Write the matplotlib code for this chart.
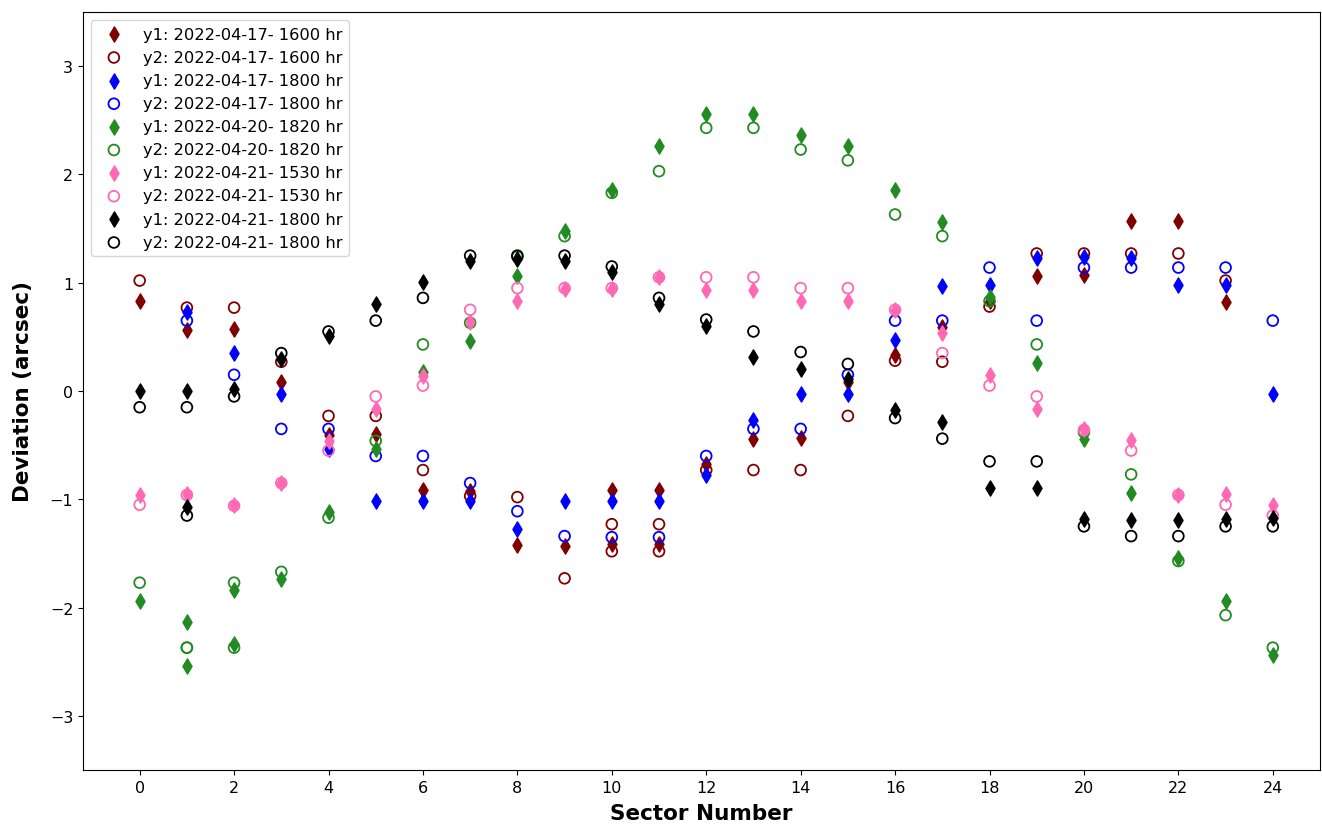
import numpy as np
import matplotlib
matplotlib.use("Agg")
import matplotlib.pyplot as plt

nan = np.nan
sectors = list(range(25))

# y1 / y2 deviations for each run (arcsec), one value per sector
y1_0417_1600 = [0.83, 0.56, 0.57, 0.08, -0.41, -0.40, -0.91, -0.92, -1.42, -1.43, -0.91, -0.91, -0.67,
                -0.44, -0.43, 0.08, 0.33, 0.59, 0.83, 1.06, 1.07, 1.57, 1.57, 0.82, nan]
y2_0417_1600 = [1.02, 0.77, 0.77, 0.27, -0.23, -0.23, -0.73, -0.97, -0.98, -1.73, -1.23, -1.23, -0.73,
                -0.73, -0.73, -0.23, 0.28, 0.27, 0.78, 1.27, 1.27, 1.27, 1.27, 1.02, nan]
y1_0417_1800 = [nan, 0.73, 0.35, -0.03, -0.54, -1.02, -1.02, -1.02, -1.27, -1.02, -1.02, -1.02, -0.78,
                -0.27, -0.03, -0.03, 0.47, 0.97, 0.98, 1.23, 1.24, 1.23, 0.98, 0.98, -0.03]
y2_0417_1800 = [nan, 0.65, 0.15, -0.35, -0.35, -0.60, -0.60, -0.85, -1.11, -1.34, -1.35, -1.35, -0.60,
                -0.35, -0.35, 0.15, 0.65, 0.65, 1.14, 0.65, 1.14, 1.14, 1.14, 1.14, 0.65]
y1_0420_1820 = [-1.94, -2.13, -1.84, -1.74, -1.12, -0.54, 0.18, 0.46, 1.06, 1.48, 1.86, 2.26, 2.56,
                2.56, 2.36, 2.26, 1.86, 1.56, 0.87, 0.26, -0.44, -0.94, -1.54, -1.94, -2.44]
y2_0420_1820 = [-1.77, -2.37, -1.77, -1.67, -1.17, -0.46, 0.43, 0.63, 1.24, 1.43, 1.83, 2.03, 2.43,
                2.43, 2.23, 2.13, 1.63, 1.43, 0.83, 0.43, -0.38, -0.77, -1.57, -2.07, -2.37]
y1_0421_1530 = [-0.96, -0.95, -1.05, -0.85, -0.46, -0.17, 0.14, 0.64, 0.83, 0.94, 0.94, 1.05, 0.93,
                0.93, 0.83, 0.83, 0.75, 0.54, 0.15, -0.17, -0.35, -0.45, -0.96, -0.95, -1.05]
y2_0421_1530 = [-1.05, -0.96, -1.06, -0.85, -0.55, -0.05, 0.05, 0.75, 0.95, 0.95, 0.95, 1.05, 1.05,
                1.05, 0.95, 0.95, 0.75, 0.35, 0.05, -0.05, -0.36, -0.55, -0.96, -1.05, -1.15]
y1_0421_1800 = [0.00, 0.00, 0.02, 0.30, 0.51, 0.80, 1.01, 1.20, 1.22, 1.20, 1.10, 0.80, 0.60,
                0.31, 0.20, 0.11, -0.18, -0.29, -0.90, -0.90, -1.18, -1.19, -1.19, -1.18, -1.17]
y2_0421_1800 = [-0.15, -0.15, -0.05, 0.35, 0.55, 0.65, 0.86, 1.25, 1.25, 1.25, 1.15, 0.86, 0.66,
                0.55, 0.36, 0.25, -0.25, -0.44, -0.65, -0.65, -1.25, -1.34, -1.34, -1.25, -1.25]

# repeated sectors (second reading at the same sector)
extra_x_0417_1600 = [10, 11]
extra_y1_0417_1600 = [-1.41, -1.41]
extra_y2_0417_1600 = [-1.48, -1.48]
extra_x_0420_1820 = [1, 2]
extra_y1_0420_1820 = [-2.54, -2.34]
extra_y2_0420_1820 = [-2.37, -2.37]
extra_x_0421_1800 = [1]
extra_y1_0421_1800 = [-1.07]
extra_y2_0421_1800 = [-1.15]

runs = [
    ("2022-04-17- 1600 hr", "#800000", y1_0417_1600, y2_0417_1600,
     extra_x_0417_1600, extra_y1_0417_1600, extra_y2_0417_1600),
    ("2022-04-17- 1800 hr", "blue", y1_0417_1800, y2_0417_1800, [], [], []),
    ("2022-04-20- 1820 hr", "forestgreen", y1_0420_1820, y2_0420_1820,
     extra_x_0420_1820, extra_y1_0420_1820, extra_y2_0420_1820),
    ("2022-04-21- 1530 hr", "hotpink", y1_0421_1530, y2_0421_1530, [], [], []),
    ("2022-04-21- 1800 hr", "black", y1_0421_1800, y2_0421_1800,
     extra_x_0421_1800, extra_y1_0421_1800, extra_y2_0421_1800),
]

fig = plt.figure(figsize=(13.22, 8.29), dpi=100)
ax = fig.add_axes([83 / 1322, 1 - 771 / 829, (1320 - 83) / 1322, (771 - 13) / 829])

for label, color, y1, y2, ex, ey1, ey2 in runs:
    xs = sectors + list(ex)
    ax.scatter(xs, list(y1) + list(ey1), marker="d", s=60, color=color,
               label="y1: " + label)
    ax.scatter(xs, list(y2) + list(ey2), marker="o", s=60, facecolors="none",
               edgecolors=color, linewidths=1.3, label="y2: " + label)

ax.set_xlim(-1.2, 25.0)
ax.set_ylim(-3.5, 3.5)
ax.set_xticks(range(0, 25, 2))
ax.tick_params(labelsize=11.5)
ax.set_xlabel("Sector Number", fontsize=15.5, fontweight="bold", labelpad=6)
ax.set_ylabel("Deviation (arcsec)", fontsize=15.5, fontweight="bold", labelpad=12)
ax.legend(loc="upper left", fontsize=11.7)

fig.savefig("out.png", dpi=100)
